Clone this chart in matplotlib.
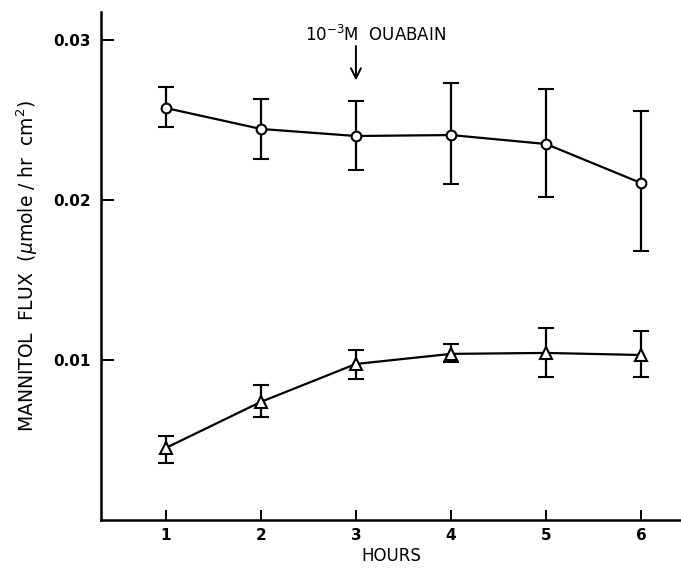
import numpy as np
import matplotlib
matplotlib.use('Agg')
import matplotlib.pyplot as plt

# hours
hours = [1, 2, 3, 4, 5, 6]

# upper curve (circles): mean, error bar low/high
circ_mean = [0.02575, 0.02444, 0.0240, 0.02406, 0.0235, 0.02106]
circ_low = [0.02456, 0.02256, 0.02188, 0.0210, 0.02019, 0.01681]
circ_high = [0.02706, 0.02631, 0.02619, 0.02731, 0.02694, 0.02556]

# lower curve (triangles)
tri_mean = [0.0045, 0.00738, 0.00975, 0.01038, 0.01044, 0.01031]
tri_low = [0.00356, 0.00644, 0.00881, 0.00988, 0.00894, 0.00894]
tri_high = [0.00525, 0.00844, 0.01063, 0.011, 0.012, 0.01181]

yticks = [0.01, 0.02, 0.03]
ytick_labels = ['0.01', '0.02', '0.03']

plt.rcParams['font.family'] = ['DejaVu Sans']

fig = plt.figure(figsize=(6.81, 5.72), dpi=100)
ax = fig.add_axes([0.148, 0.091, 0.852, 0.888])


def err(mean, low, high):
    m = np.array(mean)
    return [m - np.array(low), np.array(high) - m]


ax.errorbar(hours, circ_mean, yerr=err(circ_mean, circ_low, circ_high),
            color='black', lw=1.6, marker='o', ms=7, mfc='white', mec='black',
            mew=1.5, capsize=6, capthick=1.6, elinewidth=1.6)
ax.errorbar(hours, tri_mean, yerr=err(tri_mean, tri_low, tri_high),
            color='black', lw=1.6, marker='^', ms=8, mfc='white', mec='black',
            mew=1.5, capsize=6, capthick=1.6, elinewidth=1.6)

ax.set_xlim(0.316, 6.42)
ax.set_ylim(0, 0.03175)

for s in ['top', 'right']:
    ax.spines[s].set_visible(False)
for s in ['left', 'bottom']:
    ax.spines[s].set_linewidth(1.8)

ax.set_xticks(hours)
ax.set_xticklabels([str(h) for h in hours], fontsize=11, fontweight='bold')
ax.set_yticks(yticks)
ax.set_yticklabels(ytick_labels, fontsize=11, fontweight='bold')
ax.tick_params(axis='y', direction='in', length=9, width=1.4, pad=7)
ax.tick_params(axis='x', direction='in', length=7, width=1.4, pad=6)

ax.set_xlabel('HOURS', fontsize=12, labelpad=3)
ax.set_ylabel('MANNITOL  FLUX  ($\\mu$mole / hr  cm$^2$)', fontsize=13.5, labelpad=10)

ax.annotate('', xy=(3, 0.0273), xytext=(3, 0.0298),
            arrowprops=dict(arrowstyle='->', color='black', lw=1.4,
                            mutation_scale=18))
ax.text(3.21, 0.0303, '10$^{-3}$M  OUABAIN', fontsize=12, ha='center', va='center')

fig.savefig('out.png', dpi=100)
